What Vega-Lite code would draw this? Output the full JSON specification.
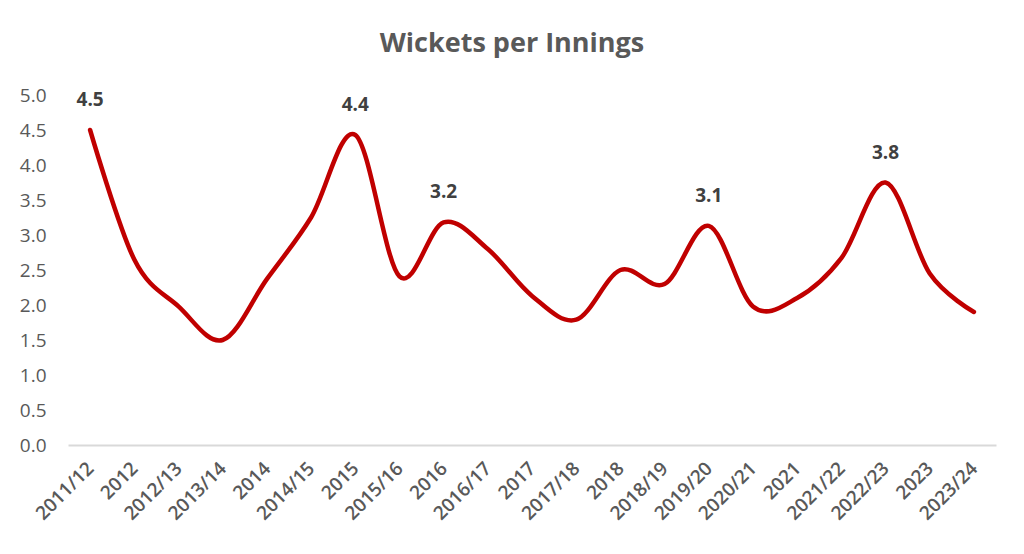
{
  "$schema": "https://vega.github.io/schema/vega-lite/v6.json",
  "autosize": {"type": "none"},
  "width": 928,
  "height": 350,
  "padding": {"left": 68, "top": 95, "right": 28, "bottom": 109},
  "background": "white",
  "config": {"view": {"stroke": null}},
  "title": {
    "text": "Wickets per Innings",
    "font": "Open Sans",
    "fontSize": 27,
    "fontWeight": "bold",
    "color": "#595959",
    "anchor": "middle",
    "dx": -20,
    "offset": 28
  },
  "data": {
    "values": [
      {"season": "2011/12", "wpi": 4.5, "peak": true},
      {"season": "2012", "wpi": 2.65, "peak": false},
      {"season": "2012/13", "wpi": 1.98, "peak": false},
      {"season": "2013/14", "wpi": 1.5, "peak": false},
      {"season": "2014", "wpi": 2.37, "peak": false},
      {"season": "2014/15", "wpi": 3.25, "peak": false},
      {"season": "2015", "wpi": 4.43, "peak": true},
      {"season": "2015/16", "wpi": 2.41, "peak": false},
      {"season": "2016", "wpi": 3.18, "peak": true},
      {"season": "2016/17", "wpi": 2.8, "peak": false},
      {"season": "2017", "wpi": 2.13, "peak": false},
      {"season": "2017/18", "wpi": 1.79, "peak": false},
      {"season": "2018", "wpi": 2.5, "peak": false},
      {"season": "2018/19", "wpi": 2.3, "peak": false},
      {"season": "2019/20", "wpi": 3.13, "peak": true},
      {"season": "2020/21", "wpi": 1.98, "peak": false},
      {"season": "2021", "wpi": 2.1, "peak": false},
      {"season": "2021/22", "wpi": 2.67, "peak": false},
      {"season": "2022/23", "wpi": 3.75, "peak": true},
      {"season": "2023", "wpi": 2.45, "peak": false},
      {"season": "2023/24", "wpi": 1.9, "peak": false}
    ]
  },
  "encoding": {
    "x": {
      "field": "season",
      "type": "ordinal",
      "sort": null,
      "scale": {"type": "point", "padding": 0.5},
      "axis": {
        "title": null,
        "labelAngle": -45,
        "labelAlign": "right",
        "labelBaseline": "middle",
        "labelFont": "Open Sans",
        "labelFontSize": 19,
        "labelFontWeight": 600,
        "labelColor": "#595959",
        "labelPadding": 20,
        "labelOverlap": false,
        "ticks": false,
        "domainColor": "#D9D9D9",
        "domainWidth": 2,
        "grid": false
      }
    },
    "y": {
      "field": "wpi",
      "type": "quantitative",
      "scale": {"domain": [0, 5], "nice": false},
      "axis": {
        "title": null,
        "values": [0, 0.5, 1, 1.5, 2, 2.5, 3, 3.5, 4, 4.5, 5],
        "format": ".1f",
        "labelFont": "Open Sans",
        "labelFontSize": 19,
        "labelColor": "#595959",
        "labelPadding": 22,
        "domain": false,
        "ticks": false,
        "grid": false
      }
    }
  },
  "layer": [
    {
      "mark": {
        "type": "line",
        "interpolate": "cardinal",
        "tension": 0,
        "color": "#C00000",
        "strokeWidth": 4.5,
        "strokeCap": "round"
      }
    },
    {
      "transform": [{"filter": "datum.peak"}],
      "mark": {
        "type": "text",
        "font": "Open Sans",
        "fontSize": 19,
        "fontWeight": "bold",
        "color": "#404040",
        "dy": -30
      },
      "encoding": {
        "text": {"field": "wpi", "type": "quantitative", "format": ".1f"}
      }
    }
  ]
}
